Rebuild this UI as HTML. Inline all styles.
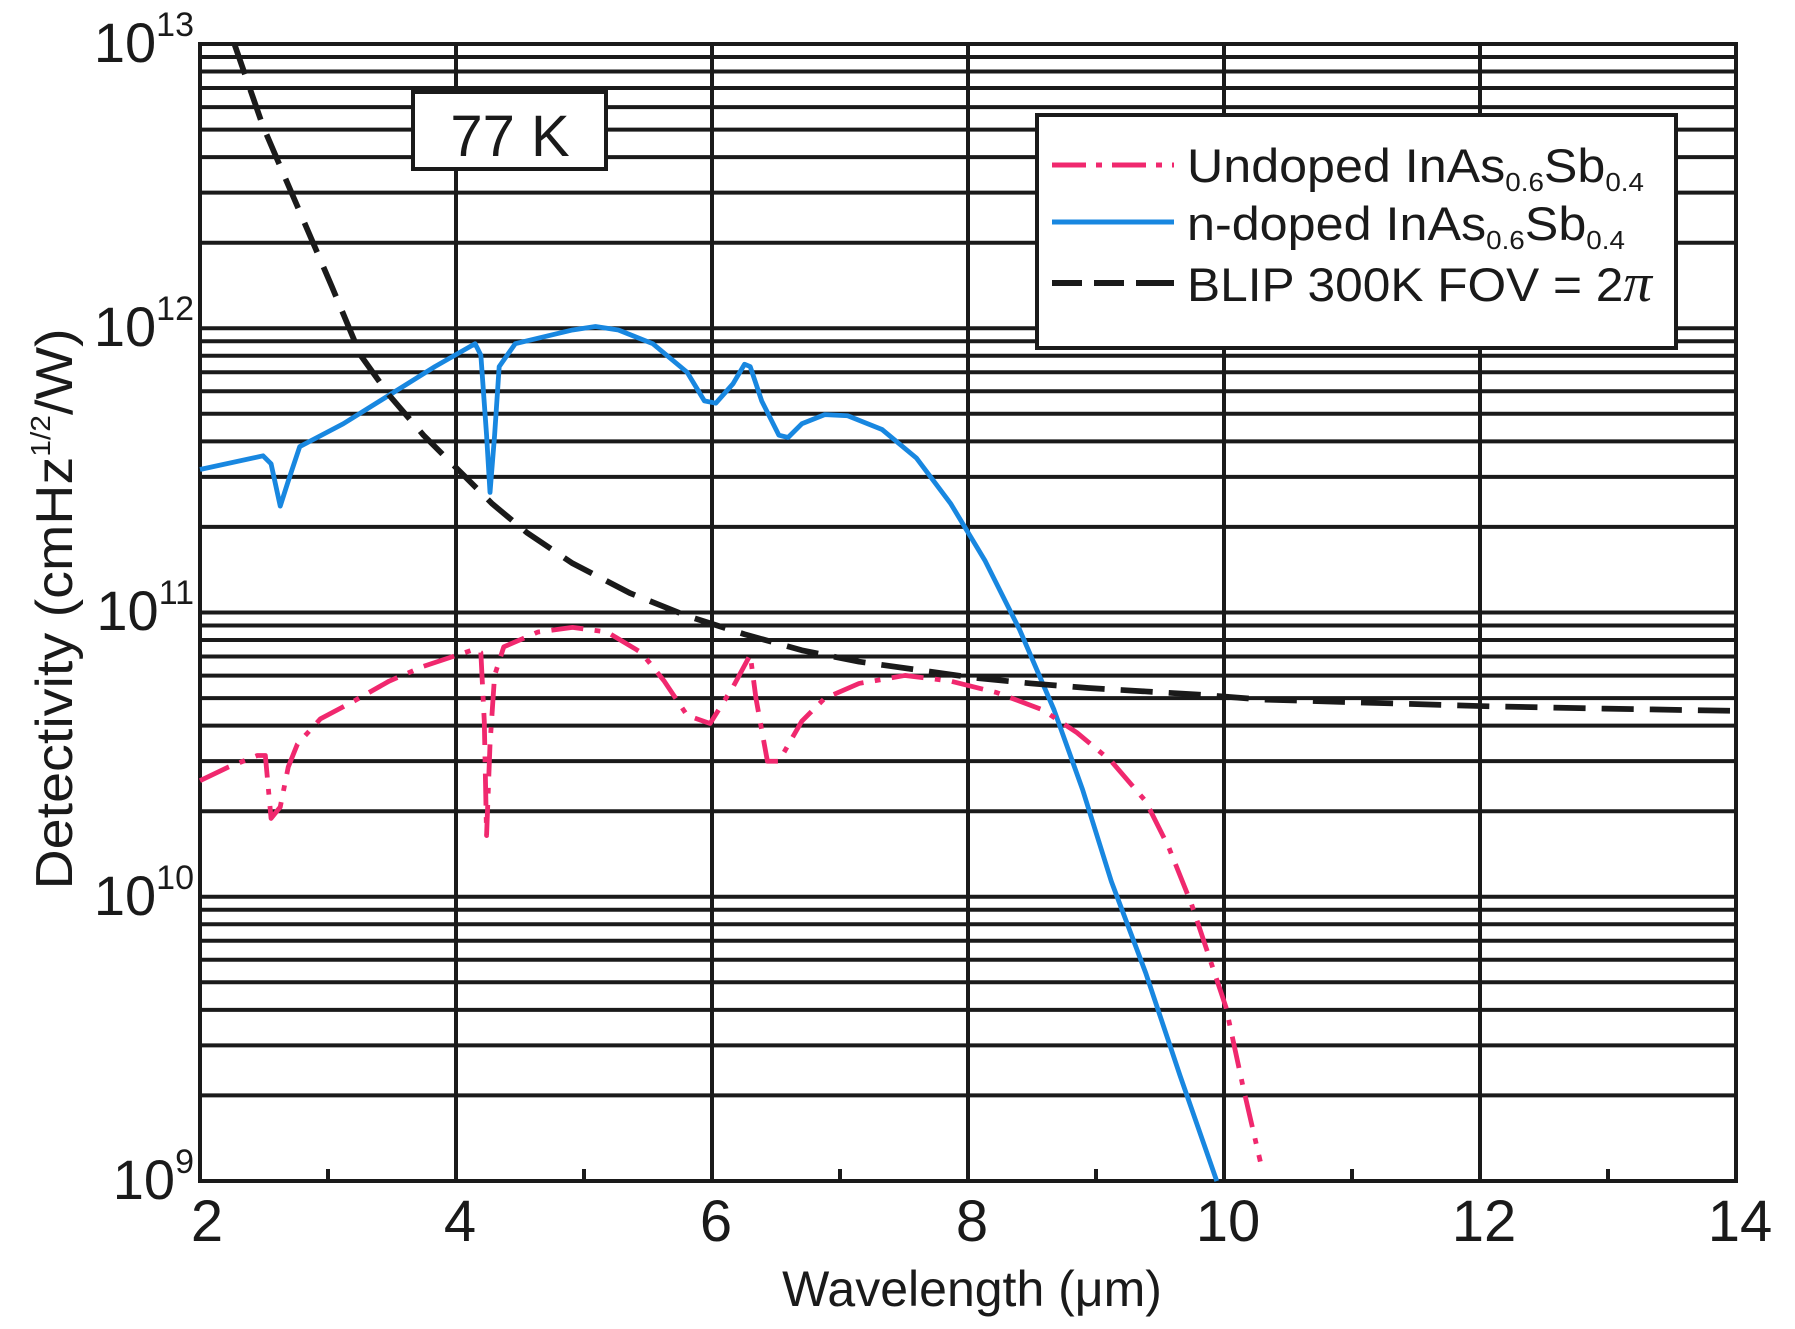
<!DOCTYPE html>
<html><head><meta charset="utf-8"><style>
html,body{margin:0;padding:0;background:#fff;}
svg{display:block;font-family:"Liberation Sans",Arial,sans-serif;}
</style></head><body>
<svg width="1795" height="1329" viewBox="0 0 1795 1329" xmlns="http://www.w3.org/2000/svg">
<g stroke="#1a1a1a" stroke-width="4" fill="none">
<path d="M200 1095.4H1736M200 1045.4H1736M200 1009.9H1736M200 982.3H1736M200 959.8H1736M200 940.8H1736M200 924.3H1736M200 909.8H1736M200 896.75H1736
M200 811.2H1736M200 761.1H1736M200 725.6H1736M200 698.1H1736M200 675.6H1736M200 656.5H1736M200 640H1736M200 625.5H1736M200 612.5H1736
M200 526.9H1736M200 476.9H1736M200 441.4H1736M200 413.8H1736M200 391.3H1736M200 372.3H1736M200 355.8H1736M200 341.3H1736M200 328.25H1736
M200 242.7H1736M200 192.6H1736M200 157.1H1736M200 129.6H1736M200 107.1H1736M200 88H1736M200 71.5H1736M200 57H1736
M456 44V1181M712 44V1181M968 44V1181M1224 44V1181M1480 44V1181
M328 1169V1181M584 1169V1181M840 1169V1181M1096 1169V1181M1352 1169V1181M1608 1169V1181"/>
<rect x="200" y="44" width="1536" height="1137"/>
</g>
<g transform="translate(200,44) scale(1.1463,1.1439) translate(-175,-38)" fill="none" stroke-linejoin="round">
<polyline stroke="#1887e0" stroke-width="4.2" points="175,410 230,398 237,405 245,442 252,420 262,390 300,370 340,345 380,320 415,300 420,310 425,380 428,430 432,380 436,320 450,300 500,288 520,285 540,288 570,300 600,325 615,350 625,352 640,335 650,318 655,320 665,350 680,380 688,382 700,370 720,362 740,363 770,375 800,400 830,440 860,490 890,550 920,620 945,690 970,770 1000,850 1030,940 1062,1032"/>
<polyline stroke="#f0286e" stroke-width="4.2" stroke-dasharray="28,10,5,10" points="175,682 200,670 225,660 232,660 237,715 245,705 252,670 260,650 280,628 310,612 340,595 370,582 400,572 415,567 420,570 423,630 425,730 428,650 432,590 440,565 470,552 500,548 530,552 560,570 580,595 600,625 620,632 640,600 655,572 660,610 670,665 680,665 700,630 720,610 750,597 790,590 830,595 870,605 910,620 940,640 970,665 1000,700 1020,740 1040,790 1055,835 1070,880 1085,950 1100,1015"/>
<polyline stroke="#1a1a1a" stroke-width="5" stroke-dasharray="28,14" points="205,38 230,110 260,180 290,250 315,310 340,345 370,380 400,410 430,440 460,465 500,492 550,518 600,538 650,554 700,568 750,578 800,585 850,592 900,597 950,601 1000,604 1050,607 1100,611 1200,614 1300,617 1400,619 1515,621"/>
</g>
<rect x="413" y="92" width="193" height="77" fill="#fff" stroke="#1a1a1a" stroke-width="4"/>
<text x="510" y="156" font-size="58" text-anchor="middle" fill="#1a1a1a">77 K</text>
<rect x="1037" y="115" width="639" height="233" fill="#fff" stroke="#1a1a1a" stroke-width="4"/>
<line x1="1052" y1="165" x2="1174" y2="165" stroke="#f0286e" stroke-width="5" stroke-dasharray="34,10,6,10"/>
<line x1="1052" y1="222" x2="1174" y2="222" stroke="#1887e0" stroke-width="5"/>
<line x1="1052" y1="283" x2="1180" y2="283" stroke="#1a1a1a" stroke-width="6" stroke-dasharray="30,12,30,12,8,0"/>
<g font-size="47" fill="#1a1a1a">
<text x="1187" y="182" textLength="457" lengthAdjust="spacingAndGlyphs">Undoped InAs<tspan font-size="26" dy="9">0.6</tspan><tspan dy="-9">Sb</tspan><tspan font-size="26" dy="9">0.4</tspan></text>
<text x="1187" y="240" textLength="438" lengthAdjust="spacingAndGlyphs">n-doped InAs<tspan font-size="26" dy="9">0.6</tspan><tspan dy="-9">Sb</tspan><tspan font-size="26" dy="9">0.4</tspan></text>
<text x="1187" y="301" textLength="465" lengthAdjust="spacingAndGlyphs">BLIP 300K FOV = 2<tspan font-family="Liberation Serif" font-style="italic" font-size="54">π</tspan></text>
</g>
<g font-size="58" fill="#1a1a1a" text-anchor="middle">
<text x="207" y="1241">2</text><text x="460" y="1241">4</text><text x="716" y="1241">6</text><text x="972" y="1241">8</text><text x="1228" y="1241">10</text><text x="1484" y="1241">12</text><text x="1740" y="1241">14</text>
</g>
<g font-size="56" fill="#1a1a1a" text-anchor="end">
<text x="194" y="1199">10<tspan font-size="34" dy="-26">9</tspan></text>
<text x="194" y="915">10<tspan font-size="34" dy="-26">10</tspan></text>
<text x="194" y="630">10<tspan font-size="34" dy="-26">11</tspan></text>
<text x="194" y="346">10<tspan font-size="34" dy="-26">12</tspan></text>
<text x="194" y="62">10<tspan font-size="34" dy="-26">13</tspan></text>
</g>
<text x="972" y="1306" font-size="50" text-anchor="middle" fill="#1a1a1a">Wavelength (μm)</text>
<text transform="translate(72,609) rotate(-90)" font-size="52" text-anchor="middle" fill="#1a1a1a" textLength="561" lengthAdjust="spacingAndGlyphs">Detectivity (cmHz<tspan font-size="28" dy="-22">1/2</tspan><tspan dy="22">/W)</tspan></text>
</svg>
</body></html>
